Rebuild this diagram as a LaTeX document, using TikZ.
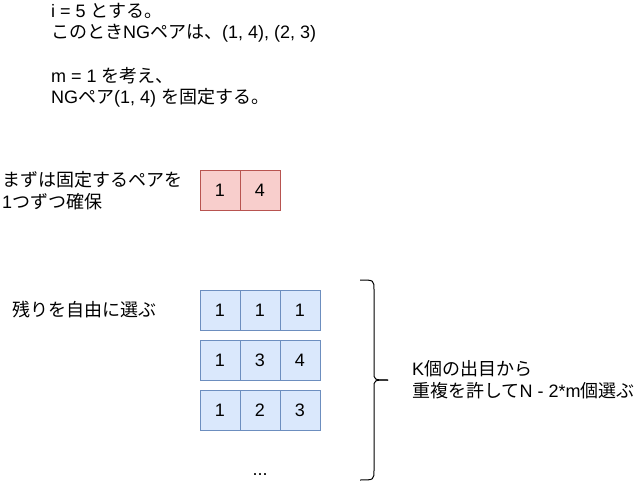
\documentclass[tikz,border=0pt]{standalone}
\usepackage{fontspec}
\setmainfont{Liberation Sans}
\newfontfamily\jp{Noto Sans CJK JP}
\newcommand{\J}[1]{{\jp #1}}
\begin{document}
\begin{tikzpicture}[x=1bp,y=-1bp,
  txt/.style={anchor=west,inner sep=0pt,align=left,font=\fontsize{18bp}{21.6bp}\selectfont},
  pinkcell/.style={draw=pinkline,fill=pinkfill,minimum width=40bp,minimum height=40bp,inner sep=0pt,font=\fontsize{18bp}{21.6bp}\selectfont},
  bluecell/.style={draw=blueline,fill=bluefill,minimum width=40bp,minimum height=40bp,inner sep=0pt,font=\fontsize{18bp}{21.6bp}\selectfont},
  bracestyle/.style={draw=black,line width=1bp}]
\definecolor{pinkfill}{HTML}{F8CECC}
\definecolor{pinkline}{HTML}{B85450}
\definecolor{bluefill}{HTML}{DAE8FC}
\definecolor{blueline}{HTML}{6C8EBF}
\path[use as bounding box,fill=white] (0,0) rectangle (641,481);

\node[txt] (intro) at (51,55.2) {i = 5 \J{とする。}\\\J{このとき}NG\J{ペアは、}(1, 4), (2, 3)\\ \\m = 1 \J{を考え、}\\NG\J{ペア}(1, 4) \J{を固定する。}};

\node[txt] (fixtxt) at (2,190.5) {\J{まずは固定するペアを}\\1\J{つずつ確保}};
\node[txt] (freetxt) at (12,310) {\J{残りを自由に選ぶ}};

\node[pinkcell] (p1) at (220,190) {1};
\node[pinkcell] (p2) at (260,190) {4};

\node[bluecell] (a1) at (220,310) {1};
\node[bluecell] (a2) at (260,310) {1};
\node[bluecell] (a3) at (300,310) {1};
\node[bluecell] (b1) at (220,360) {1};
\node[bluecell] (b2) at (260,360) {3};
\node[bluecell] (b3) at (300,360) {4};
\node[bluecell] (c1) at (220,410) {1};
\node[bluecell] (c2) at (260,410) {2};
\node[bluecell] (c3) at (300,410) {3};

\node[txt,anchor=base] (dots) at (260,475) {...};

\coordinate (bt) at (360,280);
\coordinate (bb) at (360,480);
\coordinate (tip) at (388,380);
\draw[bracestyle] (bt) .. controls (374,280) .. (374,290) -- (374,372) .. controls (374,380) .. (tip);
\draw[bracestyle] (tip) .. controls (374,380) .. (374,388) -- (374,470) .. controls (374,480) .. (bb);

\node[txt] (ktxt) at (412,380) {K\J{個の出目から}\\\J{重複を許して}N - 2*m\J{個選ぶ}};
\end{tikzpicture}
\end{document}
